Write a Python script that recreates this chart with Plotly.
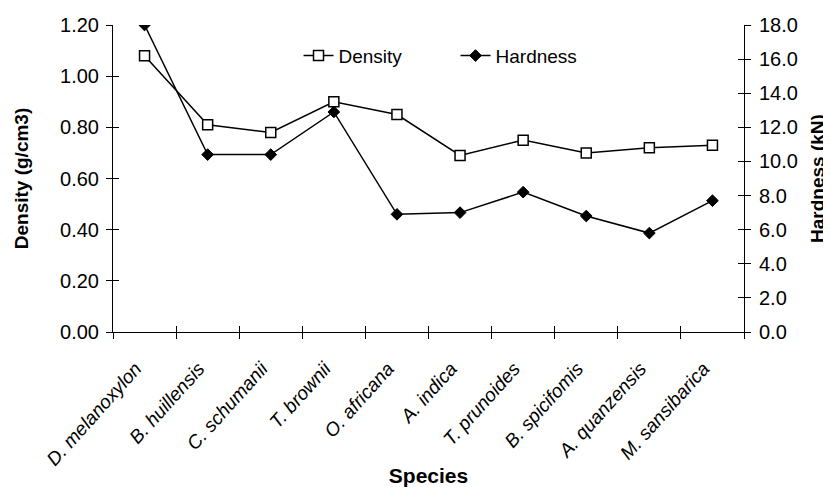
import plotly.graph_objects as go

species = ["D. melanoxylon", "B. huillensis", "C. schumanii", "T. brownii", "O. africana",
           "A. indica", "T. prunoides", "B. spicifomis", "A. quanzensis", "M. sansibarica"]
density = [1.08, 0.81, 0.78, 0.90, 0.85, 0.69, 0.75, 0.70, 0.72, 0.73]
hardness = [18.0, 10.4, 10.4, 12.9, 6.9, 7.0, 8.2, 6.8, 5.8, 7.7]

FONT = "Liberation Sans, Arial, sans-serif"

fig = go.Figure()
fig.add_trace(go.Scatter(
    x=species, y=density, name="Density", mode="lines+markers",
    line=dict(color="black", width=1.5),
    marker=dict(symbol="square", size=10, color="white", line=dict(color="black", width=1.5)),
    xaxis="x", yaxis="y"))
fig.add_trace(go.Scatter(
    x=species, y=hardness, name="Hardness", mode="lines+markers",
    line=dict(color="black", width=1.5),
    marker=dict(symbol="diamond", size=9, color="black", line=dict(color="black", width=1)),
    xaxis="x", yaxis="y2"))
# invisible helper traces so the overlay axes (inside tick halves) get drawn
fig.add_trace(go.Scatter(x=species, y=density, mode="markers", marker=dict(opacity=0),
                         showlegend=False, hoverinfo="skip", xaxis="x2", yaxis="y3"))
fig.add_trace(go.Scatter(x=species, y=hardness, mode="markers", marker=dict(opacity=0),
                         showlegend=False, hoverinfo="skip", xaxis="x2", yaxis="y4"))

tick_font = dict(family=FONT, size=20, color="black")
title_font = dict(family=FONT, size=19, color="black", weight="bold")

fig.update_layout(
    width=823, height=479,
    margin=dict(l=105, r=87, t=17, b=155),
    paper_bgcolor="white", plot_bgcolor="white",
    showlegend=True,
    legend=dict(orientation="h", x=0.294, y=0.90, xanchor="left", yanchor="middle",
                font=dict(family=FONT, size=19, color="black"), bgcolor="rgba(0,0,0,0)",
                itemwidth=30, entrywidth=112),
    xaxis=dict(type="category", categoryorder="array", categoryarray=species,
               range=[-0.5, 9.5], showline=True, linecolor="black", linewidth=1,
               showgrid=False, zeroline=False, tickson="boundaries", automargin=False,
               ticks="outside", ticklen=6, tickcolor="black", tickwidth=1,
               tickangle=-48, ticklabelstandoff=17, ticklabelshift=-9,
               tickfont=dict(family=FONT, size=19, color="black", style="italic"),
               title=dict(text="Species", font=dict(family=FONT, size=21, color="black",
                                                    weight="bold"), standoff=3)),
    xaxis2=dict(type="category", categoryorder="array", categoryarray=species,
                range=[-0.5, 9.5], overlaying="x", matches="x", showline=False, showgrid=False,
                zeroline=False, tickson="boundaries", ticks="inside", ticklen=6,
                tickcolor="black", tickwidth=1, showticklabels=False, automargin=False),
    yaxis=dict(range=[0, 1.2], dtick=0.2, tickformat=".2f", showline=True, linecolor="black",
               linewidth=1, showgrid=False, zeroline=False, ticks="outside", ticklen=6,
               tickcolor="black", tickwidth=1, tickfont=tick_font, automargin=False,
               ticklabelstandoff=3,
               title=dict(text="Density (g/cm3)", font=title_font, standoff=26)),
    yaxis2=dict(range=[0, 18], dtick=2, tickformat=".1f", side="right", overlaying="y",
                showline=True, linecolor="black", linewidth=1, showgrid=False, zeroline=False,
                ticks="outside", ticklen=6, tickcolor="black", tickwidth=1, tickfont=tick_font,
                automargin=False, ticklabelstandoff=4,
                title=dict(text="Hardness (kN)", font=title_font, standoff=13)),
    yaxis3=dict(range=[0, 1.2], dtick=0.2, overlaying="y", showline=False, showgrid=False,
                zeroline=False, ticks="inside", ticklen=6, tickcolor="black", tickwidth=1,
                showticklabels=False, automargin=False),
    yaxis4=dict(range=[0, 18], dtick=2, overlaying="y", side="right", showline=False,
                showgrid=False, zeroline=False, ticks="inside", ticklen=6, tickcolor="black",
                tickwidth=1, showticklabels=False, automargin=False),
)

fig.write_html("out.html")
